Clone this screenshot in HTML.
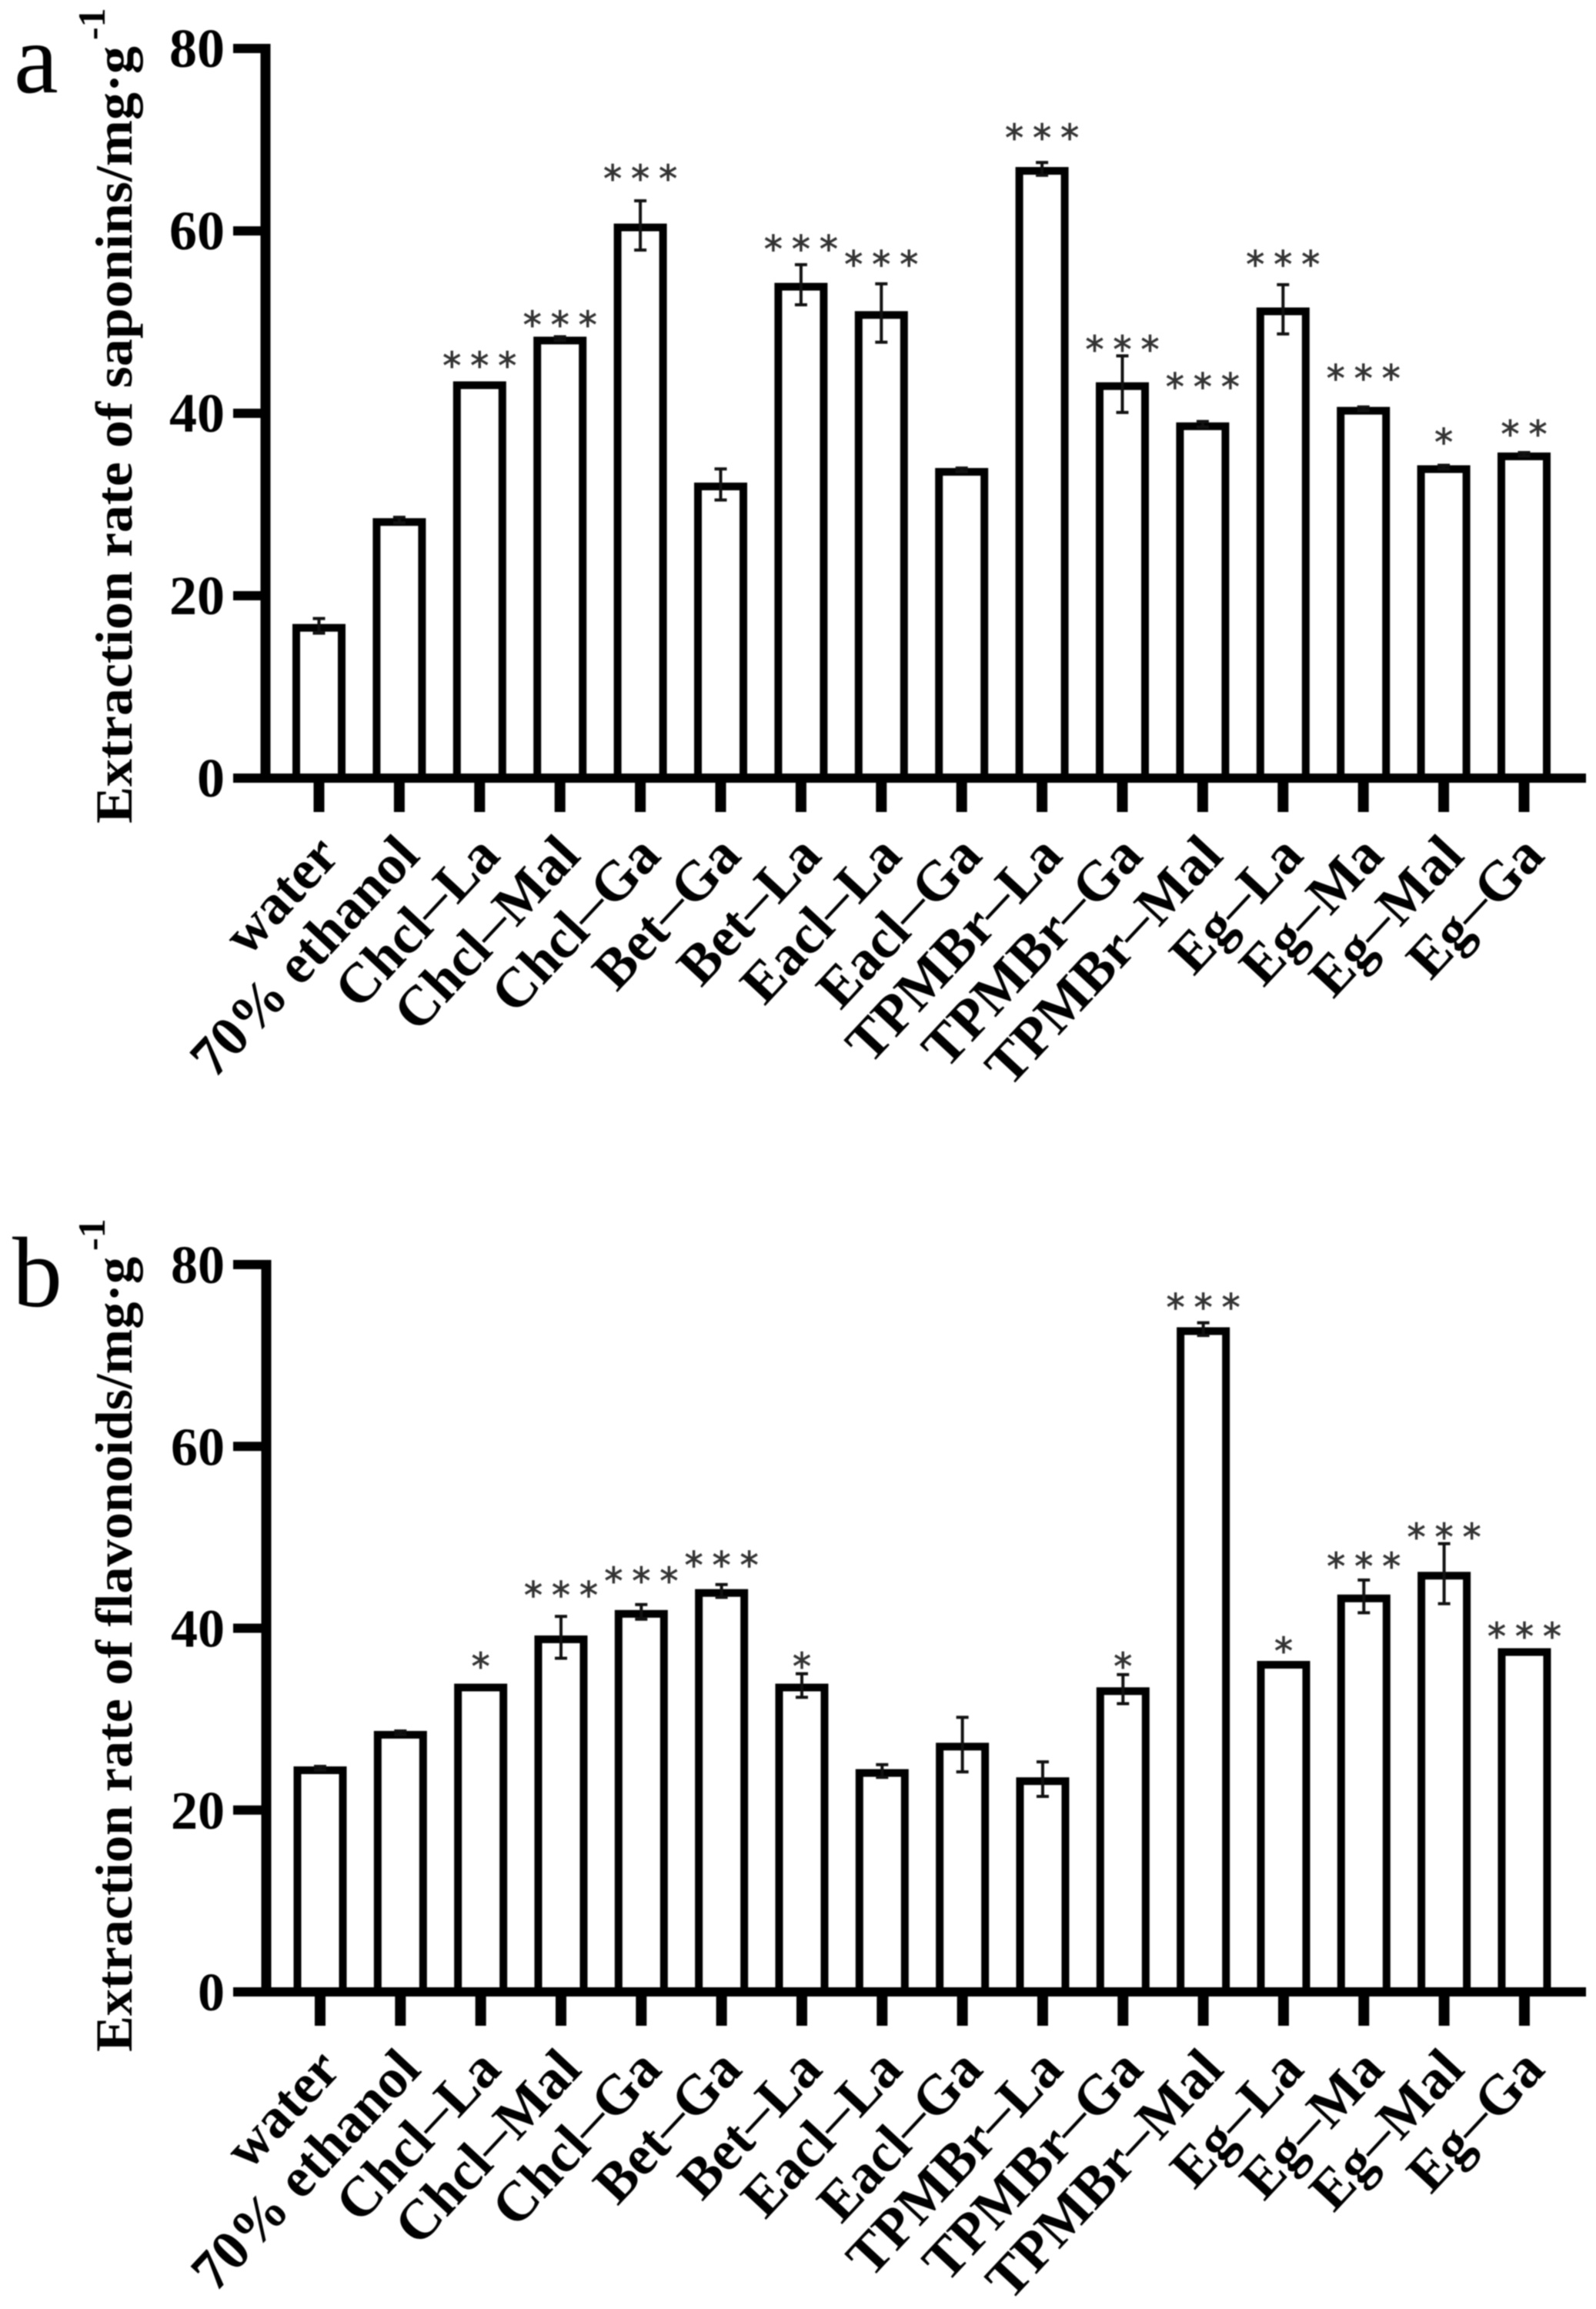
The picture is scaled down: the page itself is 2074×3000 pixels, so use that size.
<!DOCTYPE html>
<html lang="en">
<head>
<meta charset="utf-8">
<title>Extraction rates of saponins and flavonoids</title>
<style>
html,body{margin:0;padding:0;background:#fff;}
body{width:2074px;height:3000px;overflow:hidden;}
svg{display:block;filter:blur(0.9px);}
text{font-family:"Liberation Serif",serif;}
</style>
</head>
<body>
<svg id="figure" xmlns="http://www.w3.org/2000/svg" width="2074" height="3000" viewBox="0 0 2074 3000"></svg>
<script>
const categoriesA = ["water","70% ethanol","Chcl–La","Chcl–Mal","Chcl–Ga","Bet–Ga","Bet–La","Eacl–La","Eacl–Ga","TPMBr–La","TPMBr–Ga","TPMBr–Mal","Eg–La","Eg–Ma","Eg–Mal","Eg–Ga"];
const valuesA = [16.7,28.3,43.3,48.2,60.6,32.2,54.1,51.0,33.8,66.8,43.2,38.8,51.4,40.5,34.1,35.5];
const errorsA = [0.8,0.3,0,0.2,2.7,1.7,2.2,3.2,0.2,0.7,3.1,0.3,2.7,0.2,0.2,0.2];
const starsA = [0,0,3,3,3,0,3,3,0,3,3,3,3,3,1,2];
const starLevelsA = [0,0,45.9,50.4,66.4,0,58.7,57,0,70.9,47.7,43.6,57,44.5,37.5,38.4];

const categoriesB = ["water","70% ethanol","Chcl–La","Chcl–Mal","Chcl–Ga","Bet–Ga","Bet–La","Eacl–La","Eacl–Ga","TPMBr–La","TPMBr–Ga","TPMBr–Mal","Eg–La","Eg–Ma","Eg–Mal","Eg–Ga"];
const valuesB = [24.6,28.5,33.7,39.0,41.8,44.1,33.7,24.3,27.2,23.4,33.3,72.9,36.2,43.5,46.0,37.6];
const errorsB = [0.2,0.2,0,2.3,0.8,0.7,1.3,0.7,3.0,1.9,1.6,0.7,0,1.8,3.3,0];
const starsB = [0,0,1,3,3,3,1,0,0,0,1,3,1,3,3,3];
const starLevelsB = [0,0,36.5,44.3,45.9,47.6,36.5,0,0,0,36.5,76,38.2,47.5,50.7,39.8];

const yTickLabels = [0,20,40,60,80];

const NS = "http://www.w3.org/2000/svg";
const root = document.getElementById("figure");

function mk(tag, parent, attrs, text) {
  const el = document.createElementNS(NS, tag);
  for (const k in attrs) el.setAttribute(k, attrs[k]);
  if (text !== undefined) el.textContent = text;
  parent.appendChild(el);
  return el;
}

function drawPanel(p) {
  const g = mk("g", root, {});
  
  

  const yScale = v => p.y0 + (p.y80 - p.y0) * v / 80;
  const xScale = i => p.x0 + p.step * i;
  const axisX = p.axisX;

  /* bars: stroke centre sits just under the value, outer edge slightly above it */
  p.values.forEach((v, i) => {
    const sw = 10, w = 69, cx = xScale(i), top = yScale(v) - 2.4;
    const bar = mk("rect", g, {x: cx - w/2 + sw/2, y: top + sw/2, width: w - sw, height: p.y0 - top - sw/2, fill: "#fff", stroke: "#000", "stroke-width": sw});
    
    
  });

  /* error bars */
  p.values.forEach((v, i) => {
    if (!p.errors[i]) return;
    const cx = xScale(i), hi = yScale(v + p.errors[i]), lo = yScale(v - p.errors[i]);
    const d = `M${cx} ${hi}V${lo}M${cx-8} ${hi}H${cx+8}M${cx-8} ${lo}H${cx+8}`;
    const eb = mk("path", g, {d: d, fill: "none", stroke: "#111", "stroke-width": 4});
    
    
  });

  /* significance stars */
  p.stars.forEach((n, i) => {
    if (!n) return;
    const cx = xScale(i), base = yScale(p.starLevels[i]) + 25;
    const xs = [];
    for (let k = 0; k < n; k++) xs.push(cx + (k - (n - 1) / 2) * 36);
    const st = mk("text", g, {x: xs.join(" "), y: base, "text-anchor": "middle", "font-size": 48, fill: "#333", stroke: "#333", "stroke-width": 0.8, style: 'font-family:"DejaVu Sans",sans-serif'}, "*".repeat(n));
    
    
  });

  /* axes */
  const yAxis = mk("rect", g, {x: axisX - 6.5, y: yScale(80) - 6, width: 13, height: p.y0 - yScale(80) + 12, fill: "#000"});
  
  
  const xAxis = mk("rect", g, {x: 303, y: p.y0 - 6, width: 2061 - 303, height: 12, fill: "#000"});
  
  

  yTickLabels.forEach(t => {
    const y = yScale(t);
    const tick = mk("rect", g, {x: 303, y: y - 6, width: axisX - 303, height: 12, fill: "#000"});
    
    
    const lab = mk("text", g, {x: 292, y: y + 24, "text-anchor": "end", "font-size": p.tickFont, "font-weight": "bold", fill: "#000"}, String(t));
    
    
  });

  p.categories.forEach((c, i) => {
    const cx = xScale(i);
    const tick = mk("rect", g, {x: cx - 7, y: p.y0 + 6, width: 14, height: 38, fill: "#000"});
    
    
    const ly = p.y0 + p.labelDy, lx = cx + 29;
    const lab = mk("text", g, {x: lx, y: ly, "text-anchor": "end", "font-size": 73, "font-weight": "bold", fill: "#000", transform: `rotate(-47 ${lx} ${ly})`});
    
    
    c.split("–").forEach((part, k) => {
      if (k > 0) mk("tspan", lab, {"font-weight": "normal", "font-size": 84}, "–");
      mk("tspan", lab, {}, part);
    });
  });

  /* y-axis title */
  const title = mk("text", g, {x: 0, y: 0, transform: `translate(171 ${p.titleBottom}) rotate(-90)`, "font-size": 68, "font-weight": "bold", fill: "#000", textLength: p.titleBottom - p.titleTop, lengthAdjust: "spacingAndGlyphs"}, p.title);
  
  
  const sup = mk("text", g, {x: 0, y: 0, transform: `translate(136 ${p.titleTop - 8}) rotate(-90)`, "font-size": 50, "font-weight": "bold", fill: "#000"}, "-1");
  
  

  /* panel letter */
  const letter = mk("text", g, {x: p.letterX, y: p.letterY, "font-size": 130, fill: "#000"}, p.letter);
  
  
}

drawPanel({name: "saponins", letter: "a", letterX: 18, letterY: 120, tickFont: 72, labelDy: 103,
  categories: categoriesA, values: valuesA, errors: errorsA, stars: starsA, starLevels: starLevelsA,
  x0: 414.5, step: 104.4, y0: 1011, y80: 63, axisX: 345,
  title: "Extraction rate of saponins/mg·g", titleBottom: 1070, titleTop: 60});

drawPanel({name: "flavonoids", letter: "b", letterX: 16, letterY: 1697, tickFont: 70, labelDy: 103,
  categories: categoriesB, values: valuesB, errors: errorsB, stars: starsB, starLevels: starLevelsB,
  x0: 416, step: 104.33, y0: 2588, y80: 1643, axisX: 346,
  title: "Extraction rate of flavonoids/mg·g", titleBottom: 2666, titleTop: 1633});
</script>
</body>
</html>
